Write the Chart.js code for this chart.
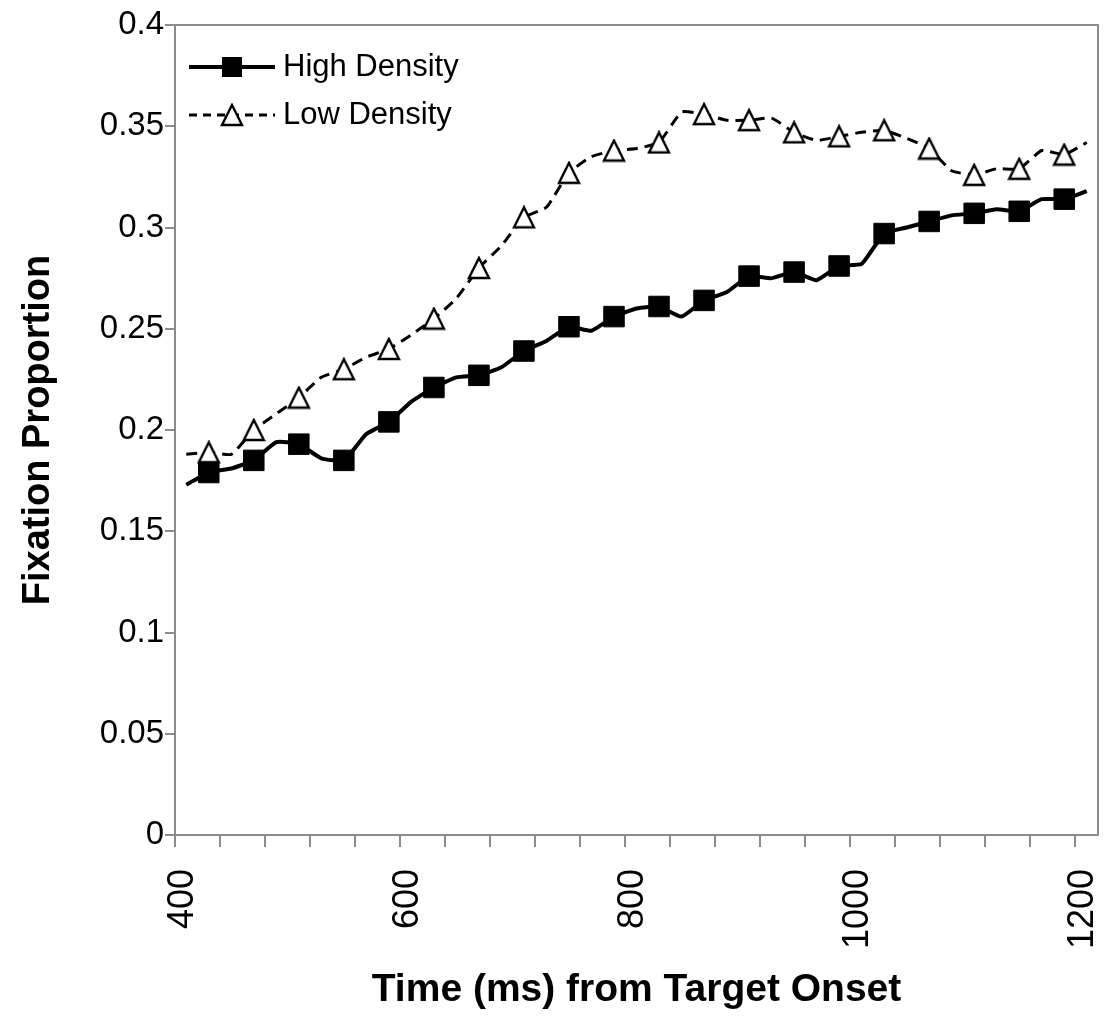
<!DOCTYPE html>
<html>
<head>
<meta charset="utf-8">
<title>Fixation Proportion by Density</title>
<script src="https://cdn.jsdelivr.net/npm/chart.js@4.4.1/dist/chart.umd.min.js"></script>
<style>
  html, body { margin: 0; padding: 0; background: #fff; }
  #wrap { width: 1107px; height: 1017px; position: relative; }
</style>
</head>
<body>
<div id="wrap"><canvas id="chart"></canvas></div>
<script>
/* ═══ DATA ══════════════════════════════════════════════ */
const TIMES = [410, 430, 450, 470, 490, 510, 530, 550, 570, 590, 610, 630, 650, 670, 690, 710,
  730, 750, 770, 790, 810, 830, 850, 870, 890, 910, 930, 950, 970, 990, 1010, 1030, 1050, 1070,
  1090, 1110, 1130, 1150, 1170, 1190, 1210];

const HIGH_DENSITY = [0.173, 0.179, 0.181, 0.185, 0.194, 0.193, 0.186, 0.185, 0.198, 0.204, 0.214,
  0.221, 0.226, 0.227, 0.231, 0.239, 0.244, 0.251, 0.249, 0.256, 0.260, 0.261, 0.256, 0.264, 0.268,
  0.276, 0.275, 0.278, 0.274, 0.281, 0.282, 0.297, 0.300, 0.303, 0.306, 0.307, 0.309, 0.308, 0.314,
  0.314, 0.318];

const LOW_DENSITY = [0.188, 0.189, 0.188, 0.200, 0.208, 0.216, 0.226, 0.230, 0.236, 0.240, 0.247,
  0.255, 0.265, 0.280, 0.291, 0.305, 0.310, 0.327, 0.335, 0.338, 0.339, 0.342, 0.357, 0.356, 0.353,
  0.353, 0.354, 0.347, 0.343, 0.345, 0.347, 0.348, 0.344, 0.339, 0.328, 0.326, 0.329, 0.329, 0.338,
  0.336, 0.342];

const SERIES_NAMES = ['High Density', 'Low Density'];

const X_TICK_MARKS = [400, 440, 480, 520, 560, 600, 640, 680, 720, 760, 800, 840, 880, 920, 960,
  1000, 1040, 1080, 1120, 1160, 1200];
const X_TICK_LABELS = [400, 600, 800, 1000, 1200];
const Y_TICKS = [0, 0.05, 0.1, 0.15, 0.2, 0.25, 0.3, 0.35, 0.4];

/* ═══ STYLE ═════════════════════════════════════════════ */
const FONT = "'Liberation Sans', Arial, Helvetica, sans-serif";
const AXIS_GREY = '#8c8c8c';

// open triangle, Excel style (isosceles, centred on its box)
function triangleMarker(w, h) {
  const c = document.createElement('canvas');
  c.width = w + 4; c.height = h + 4;
  const g = c.getContext('2d');
  g.lineWidth = 2.4; g.strokeStyle = '#000'; g.fillStyle = '#fff';
  g.beginPath();
  g.moveTo(c.width / 2, 2);
  g.lineTo(c.width - 2, c.height - 2);
  g.lineTo(2, c.height - 2);
  g.closePath();
  g.fill(); g.stroke();
  return c;
}
const TRIANGLE = triangleMarker(20, 20);

// markers on every second sample only
const everyOther = r => c => (c.dataIndex % 2 === 1 ? r : 0);

/* ═══ PLUGINS ═══════════════════════════════════════════ */
const plotBox = {
  id: 'plotBox',
  beforeDatasetsDraw(chart) {
    const {ctx, chartArea: a} = chart;
    ctx.save();
    ctx.strokeStyle = AXIS_GREY; ctx.lineWidth = 2;
    ctx.strokeRect(a.left, a.top, a.right - a.left, a.bottom - a.top);
    ctx.restore();
  }
};

const insideLegend = {
  id: 'insideLegend',
  afterDraw(chart) {
    const {ctx, chartArea: a} = chart;
    const x0 = a.left + 14, x1 = a.left + 100, mid = (x0 + x1) / 2;
    const rows = [a.top + 42, a.top + 90];
    ctx.save();
    ctx.strokeStyle = '#000';
    // High Density
    ctx.lineWidth = 4;
    ctx.beginPath(); ctx.moveTo(x0, rows[0]); ctx.lineTo(x1, rows[0]); ctx.stroke();
    ctx.fillStyle = '#000';
    ctx.fillRect(mid - 10, rows[0] - 10, 20, 20);
    // Low Density
    ctx.lineWidth = 3;
    ctx.setLineDash([8, 6]);
    ctx.beginPath(); ctx.moveTo(x0, rows[1]); ctx.lineTo(x1, rows[1]); ctx.stroke();
    ctx.setLineDash([]);
    ctx.drawImage(TRIANGLE, mid - TRIANGLE.width / 2, rows[1] - TRIANGLE.height / 2);
    // labels
    ctx.font = '31px ' + FONT;
    ctx.textBaseline = 'middle';
    ctx.fillStyle = '#000';
    ctx.fillText(SERIES_NAMES[0], x1 + 8, rows[0]);
    ctx.fillText(SERIES_NAMES[1], x1 + 8, rows[1]);
    ctx.restore();
  }
};

/* ═══ CHART ═════════════════════════════════════════════ */
const pts = vals => TIMES.map((t, i) => ({x: t, y: vals[i]}));

new Chart(document.getElementById('chart'), {
  type: 'line',
  data: {
    datasets: [
      {
        label: SERIES_NAMES[0], data: pts(HIGH_DENSITY),
        borderColor: '#000', borderWidth: 4, tension: 0.15,
        pointStyle: 'rect', pointRadius: everyOther(14.5),
        pointBackgroundColor: '#000', pointBorderColor: '#000', pointBorderWidth: 1
      },
      {
        label: SERIES_NAMES[1], data: pts(LOW_DENSITY),
        borderColor: '#000', borderWidth: 3, borderDash: [11, 7], tension: 0.15,
        pointStyle: TRIANGLE, pointRadius: everyOther(10)
      }
    ]
  },
  options: {
    responsive: true, maintainAspectRatio: false, animation: false,
    layout: {padding: {top: 25, right: 9, bottom: 0, left: 0}},
    plugins: {legend: {display: false}, tooltip: {enabled: false}},
    scales: {
      x: {
        type: 'linear', min: 400, max: 1220,
        afterBuildTicks: s => { s.ticks = X_TICK_MARKS.map(v => ({value: v})); },
        afterFit: s => { s.height = 182; s.paddingLeft = 0; s.paddingRight = 0; },
        ticks: {
          autoSkip: false, minRotation: 90, maxRotation: 90, padding: 22, labelOffset: 8,
          color: '#000', font: {family: FONT, size: 36},
          callback: v => (X_TICK_LABELS.includes(v) ? String(v) : '')
        },
        grid: {drawOnChartArea: false, tickLength: 12, color: AXIS_GREY, lineWidth: 2},
        border: {color: AXIS_GREY, width: 2},
        title: {
          display: true, text: 'Time (ms) from Target Onset', color: '#000',
          font: {family: FONT, size: 39, weight: 'bold'}, padding: {top: 0, bottom: 3}
        }
      },
      y: {
        min: 0, max: 0.4,
        afterBuildTicks: s => { s.ticks = Y_TICKS.map(v => ({value: v})); },
        afterFit: s => { s.width = 175; },
        ticks: {
          padding: 1, color: '#000', font: {family: FONT, size: 33},
          callback: v => String(Number(v.toFixed(2)))
        },
        grid: {drawOnChartArea: false, tickLength: 10, color: AXIS_GREY, lineWidth: 2},
        border: {color: AXIS_GREY, width: 2},
        title: {
          display: true, text: 'Fixation Proportion', color: '#000',
          font: {family: FONT, size: 38, weight: 'bold'}, padding: {top: 16, bottom: 0}
        }
      }
    }
  },
  plugins: [plotBox, insideLegend]
});
</script>
</body>
</html>
